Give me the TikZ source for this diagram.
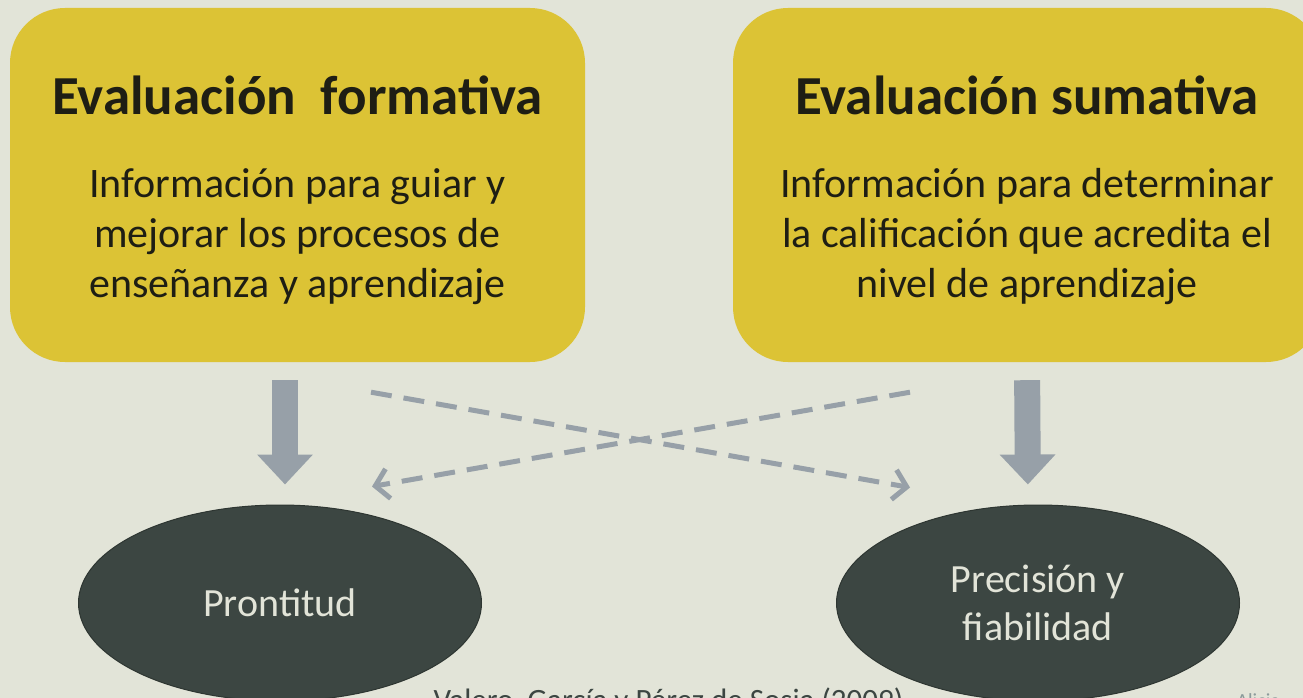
\documentclass[tikz,border=0pt]{standalone}
\usepackage{fontspec}
\setmainfont{Carlito}
\usetikzlibrary{positioning,shapes.geometric,arrows.meta,calc}

\definecolor{bgcream}{RGB}{226,228,216}
\definecolor{boxyellow}{RGB}{220,195,53}
\definecolor{inkdark}{RGB}{30,30,20}
\definecolor{slate}{RGB}{60,70,66}
\definecolor{slateline}{RGB}{46,54,50}
\definecolor{arrowgrey}{RGB}{151,160,168}
\definecolor{notegrey}{RGB}{140,155,155}

\tikzset{
  evalbox/.style={rectangle, rounded corners=55pt, fill=boxyellow, minimum height=354pt, inner sep=0pt},
  evaltitle/.style={font=\fontsize{55}{66}\selectfont\bfseries, text=inkdark, inner sep=0pt},
  evaltext/.style={font=\fontsize{42}{50}\selectfont, text=inkdark, align=center, inner sep=0pt},
  outcome/.style={ellipse, fill=slate, draw=slateline, line width=1pt, minimum width=403pt, minimum height=196pt, inner sep=0pt, text=bgcream, align=center, font=\fontsize{40}{48}\selectfont},
  bigarrow/.style={line width=26pt, draw=arrowgrey, -{Triangle[length=30pt,width=54pt]}, shorten <=18pt, shorten >=20pt},
  crossarrow/.style={line width=5pt, draw=arrowgrey, dash pattern=on 21pt off 12pt, -{Straight Barb[length=13pt,width=30pt]}},
}

\begin{document}
\begin{tikzpicture}[x=1pt,y=-1pt]
    \useasboundingbox (0,0) rectangle (1303,698);
    \clip (0,0) rectangle (1303,698);
    \fill[bgcream] (0,0) rectangle (1303,698);

    % Define boxes
    \node[evalbox, minimum width=575pt]		(formativa)		at (297.5,185) {};
    \node[evalbox, minimum width=588pt]		(sumativa)		at (1027,185) {};
    \node[evaltitle, anchor=base]		(formativa-title)		at ([yshift=-107pt]formativa.north) {Evaluación\ \ formativa};
    \node[evaltitle, anchor=base]		(sumativa-title)		at ([yshift=-107pt]sumativa.north) {Evaluación sumativa};
    \node[evaltext, anchor=base]		(formativa-text)		at ([yshift=-290pt]formativa.north) {Información para guiar y\\mejorar los procesos de\\enseñanza y aprendizaje};
    \node[evaltext, anchor=base]		(sumativa-text)		at ([yshift=-290pt]sumativa.north) {Información para determinar\\la calificación que acredita el\\nivel de aprendizaje};

    % Define ellipses
    \node[outcome]		(prontitud)		at (280,603) {Prontitud};
    \node[outcome]		(precision)		at (1038,603) {Precisión y\\fiabilidad};

    % Connect nodes
    \draw[bigarrow] ([xshift=-12.5pt]formativa.south) -- ([xshift=5pt]prontitud.north);
    \draw[bigarrow] (sumativa.south) -- ([xshift=-10pt]precision.north);
    \draw[crossarrow] ([shift={(73.5,30)}]formativa.south) -- ([shift={(-128,-17)}]precision.north);
    \draw[crossarrow] ([shift={(-117,30)}]sumativa.south) -- ([shift={(92,-18)}]prontitud.north);

    % Source
    \node[font=\fontsize{31}{37}\selectfont, text=slate, anchor=base west]		(fuente)		at (430,710) {Valero, García y Pérez de Sosia (2009)};
    \node[font=\fontsize{20}{24}\selectfont, text=notegrey, anchor=base west]		(autora)		at (1233,707) {Alicia};
\end{tikzpicture}
\end{document}
